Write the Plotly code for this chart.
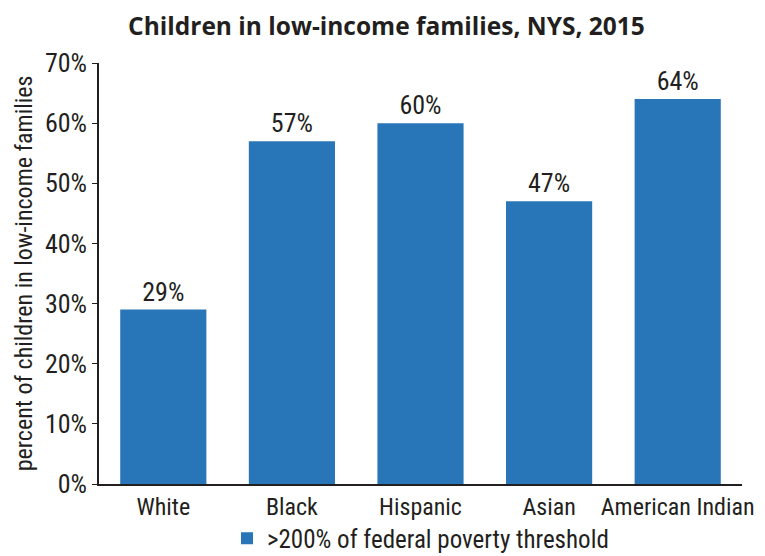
import plotly.graph_objects as go

categories = ["White", "Black", "Hispanic", "Asian", "American Indian"]
values = [29, 57, 60, 47, 64]
labels = ["29%", "57%", "60%", "47%", "64%"]
tick_vals = [0, 10, 20, 30, 40, 50, 60, 70]
tick_text = ["0%", "10%", "20%", "30%", "40%", "50%", "60%", "70%"]
series_name = ">200% of federal poverty threshold"
title = "Children in low-income families, NYS, 2015"
y_title = "percent of children in low-income families"

FONT = "Roboto Condensed, DejaVu Sans Condensed, Liberation Sans Narrow, Roboto"
TXT = "#231f20"
BLUE = "#2876b8"

def f(size):
    return dict(family=FONT, size=size, color=TXT)

fig = go.Figure()
fig.add_trace(go.Bar(
    x=categories, y=values, name=series_name,
    marker=dict(color=BLUE, line=dict(width=0)),
    text=labels, textposition="outside", cliponaxis=False,
    textfont=f(26),
))
fig.update_layout(
    width=757, height=548,
    margin=dict(l=91, r=23, t=55, b=72),
    paper_bgcolor="white", plot_bgcolor="white",
    bargap=0.33,
    title=dict(text="<b>" + title + "</b>", x=0.5, xanchor="center", y=0.966, yanchor="middle",
               font=dict(family="Open Sans, sans-serif", size=24.5, color=TXT)),
    font=f(24),
    showlegend=True,
    legend=dict(orientation="h", x=0.5, xanchor="center", yref="container", y=0.032, yanchor="middle",
                bgcolor="rgba(0,0,0,0)", font=f(25)),
    xaxis=dict(showline=True, linecolor="#231f20", linewidth=1.5, ticks="",
               tickfont=f(24), automargin=False),
    yaxis=dict(range=[0, 70], tickvals=tick_vals, ticktext=tick_text,
               showline=True, linecolor="#231f20", linewidth=1.5,
               ticks="outside", ticklen=5, tickcolor="#231f20",
               showgrid=False, zeroline=False, automargin=False,
               tickfont=f(26),
               title=dict(text=y_title, font=f(24), standoff=6)),
)
fig.write_html("out.html")
